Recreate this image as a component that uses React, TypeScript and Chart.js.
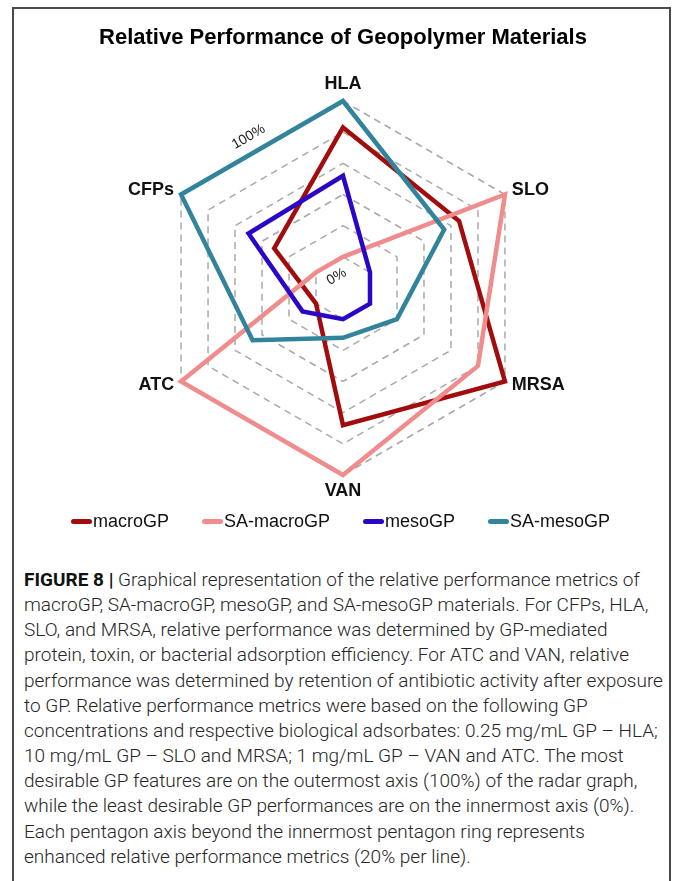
import React, { useEffect, useRef } from "react";
import { Chart, registerables } from "chart.js";

Chart.register(...registerables);

// Radar axes, clockwise from the top
const axisLabels = ["HLA", "SLO", "MRSA", "VAN", "ATC", "CFPs"];

// Relative performance (%) per axis
const macroGP = [83, 66, 100, 68, 0, 31];
const saMacroGP = [0, 100, 80, 100, 100, 0];
const mesoGP = [52, 0, 0, 0, 10, 50];
const saMesoGP = [100, 55, 20, 12, 47, 100];

const seriesNames = ["macroGP", "SA-macroGP", "mesoGP", "SA-mesoGP"];
const seriesValues = [macroGP, saMacroGP, mesoGP, saMesoGP];
const seriesColors = ["#A30C0C", "#F08C8C", "#2A06C8", "#31849B"];

// Radial scale: the 0% ring sits one step out from the centre
const scaleMin = -20;
const scaleMax = 100;
const scaleStep = 20;
const ringLabelValues = [100, 0];

const chartTitle = "Relative Performance of Geopolymer Materials";

const captionBold = "FIGURE 8 |";
const captionLines = [
  " Graphical representation of the relative performance metrics of",
  "macroGP, SA-macroGP, mesoGP, and SA-mesoGP materials. For CFPs, HLA,",
  "SLO, and MRSA, relative performance was determined by GP-mediated",
  "protein, toxin, or bacterial adsorption efficiency. For ATC and VAN, relative",
  "performance was determined by retention of antibiotic activity after exposure",
  "to GP. Relative performance metrics were based on the following GP",
  "concentrations and respective biological adsorbates: 0.25 mg/mL GP \u2013 HLA;",
  "10 mg/mL GP \u2013 SLO and MRSA; 1 mg/mL GP \u2013 VAN and ATC. The most",
  "desirable GP features are on the outermost axis (100%) of the radar graph,",
  "while the least desirable GP performances are on the innermost axis (0%).",
  "Each pentagon axis beyond the innermost pentagon ring represents",
  "enhanced relative performance metrics (20% per line).",
];

const SANS = "'Liberation Sans', Arial, Helvetica, sans-serif";
const CAPTION_FONT = "Roboto, 'Liberation Sans', Arial, sans-serif";

// Axis names around the outer ring and the rotated 0% / 100% ring labels
const radarLabelsPlugin = {
  id: "radarLabels",
  afterDatasetsDraw(chart: any) {
    const scale = chart.scales.r;
    const ctx = chart.ctx as CanvasRenderingContext2D;
    const R = scale.drawingArea;
    ctx.save();
    ctx.fillStyle = "#111";
    ctx.font = `bold 18px ${SANS}`;
    axisLabels.forEach((label, i) => {
      const deg = (((scale.getIndexAngle(i) * 180) / Math.PI) % 360 + 360) % 360;
      if (deg < 1 || deg > 359) {
        const p = scale.getPointPosition(i, R + 12);
        ctx.textAlign = "center";
        ctx.textBaseline = "alphabetic";
        ctx.fillText(label, p.x, p.y);
      } else if (Math.abs(deg - 180) < 1) {
        const p = scale.getPointPosition(i, R + 7);
        ctx.textAlign = "center";
        ctx.textBaseline = "top";
        ctx.fillText(label, p.x, p.y);
      } else {
        const p = scale.getPointPosition(i, R + 8);
        ctx.textAlign = deg < 180 ? "left" : "right";
        ctx.textBaseline = "middle";
        ctx.fillText(label, p.x, p.y);
      }
    });

    // ring labels sit on the edge between the last axis and the first one
    const last = axisLabels.length - 1;
    ctx.font = `14px ${SANS}`;
    ctx.fillStyle = "#222";
    ctx.textAlign = "center";
    ctx.textBaseline = "middle";
    ringLabelValues.forEach((v) => {
      const a = scale.getPointPositionForValue(0, v);
      const b = scale.getPointPositionForValue(last, v);
      const outer = v === scaleMax;
      const t = outer ? 0.53 : 0.5;
      const mx = a.x + (b.x - a.x) * t;
      const my = a.y + (b.y - a.y) * t;
      const dx = mx - scale.xCenter;
      const dy = my - scale.yCenter;
      const len = Math.hypot(dx, dy) || 1;
      const off = outer ? 16 : -14;
      const x = mx + (dx / len) * off;
      const y = my + (dy / len) * off;
      const rot = Math.atan2(a.y - b.y, a.x - b.x);
      ctx.save();
      ctx.translate(x, y);
      ctx.rotate(rot);
      ctx.fillText(`${v}%`, 0, 0);
      ctx.restore();
    });
    ctx.restore();
  },
};

function RadarChart() {
  const canvasRef = useRef<HTMLCanvasElement | null>(null);

  useEffect(() => {
    const canvas = canvasRef.current;
    if (!canvas) return;
    const chart = new Chart(canvas, {
      type: "radar",
      data: {
        labels: axisLabels,
        datasets: seriesNames.map((name, i) => ({
          label: name,
          data: seriesValues[i],
          borderColor: seriesColors[i],
          backgroundColor: seriesColors[i],
          borderWidth: 4.5,
          fill: false,
          pointRadius: 0,
          pointHoverRadius: 0,
          borderJoinStyle: "miter" as const,
          order: seriesNames.length - i,
        })),
      },
      options: {
        responsive: false,
        animation: false,
        devicePixelRatio: 1,
        layout: { padding: { top: 0, bottom: 65, left: 0, right: 0 } },
        plugins: {
          legend: { display: false },
          tooltip: { enabled: false },
          title: {
            display: true,
            text: chartTitle,
            color: "#000",
            font: { size: 22, weight: "bold", family: SANS },
            padding: { top: 25, bottom: 49.6 },
          },
        },
        scales: {
          r: {
            min: scaleMin,
            max: scaleMax,
            beginAtZero: false,
            ticks: { display: false, stepSize: scaleStep },
            pointLabels: { display: false },
            angleLines: { display: false },
            grid: { color: "#A9A9A9", lineWidth: 1.5 },
            border: { dash: [7, 5] },
          },
        },
      },
      plugins: [radarLabelsPlugin],
    } as any);
    return () => chart.destroy();
  }, []);

  return (
    <canvas
      ref={canvasRef}
      width={660}
      height={540}
      style={{ position: "absolute", left: 13, top: 0, width: 660, height: 540 }}
    />
  );
}

function Legend() {
  return (
    <div
      style={{
        position: "absolute",
        left: 6,
        width: 669,
        top: 509,
        height: 24,
        display: "flex",
        justifyContent: "center",
        alignItems: "center",
        gap: 33,
        fontFamily: SANS,
        fontSize: 18,
        color: "#111",
      }}
    >
      {seriesNames.map((name, i) => (
        <div key={name} style={{ display: "flex", alignItems: "center" }}>
          <span
            style={{
              display: "inline-block",
              width: 21,
              height: 5,
              borderRadius: 3,
              background: seriesColors[i],
              marginRight: 1,
            }}
          />
          <span>{name}</span>
        </div>
      ))}
    </div>
  );
}

function Caption() {
  return (
    <div
      style={{
        position: "absolute",
        left: 24,
        top: 567,
        fontFamily: CAPTION_FONT,
        fontSize: 19,
        fontWeight: 300,
        lineHeight: "25.15px",
        color: "#262626",
        whiteSpace: "nowrap",
      }}
    >
      {captionLines.map((line, i) => (
        <div key={i}>
          {i === 0 ? <b style={{ color: "#111", fontWeight: 700 }}>{captionBold}</b> : null}
          {line}
        </div>
      ))}
    </div>
  );
}

export default function App() {
  return (
    <div
      style={{
        position: "absolute",
        left: 0,
        top: 0,
        width: 673,
        height: 881,
        overflow: "hidden",
        background: "#fff",
      }}
    >
      <div
        style={{
          position: "absolute",
          left: 12,
          top: 7,
          width: 655,
          height: 900,
          borderTop: "2px solid #4a4a4a",
          borderLeft: "2px solid #4a4a4a",
          borderRight: "2px solid #4a4a4a",
        }}
      />
      <RadarChart />
      <Legend />
      <Caption />
    </div>
  );
}
